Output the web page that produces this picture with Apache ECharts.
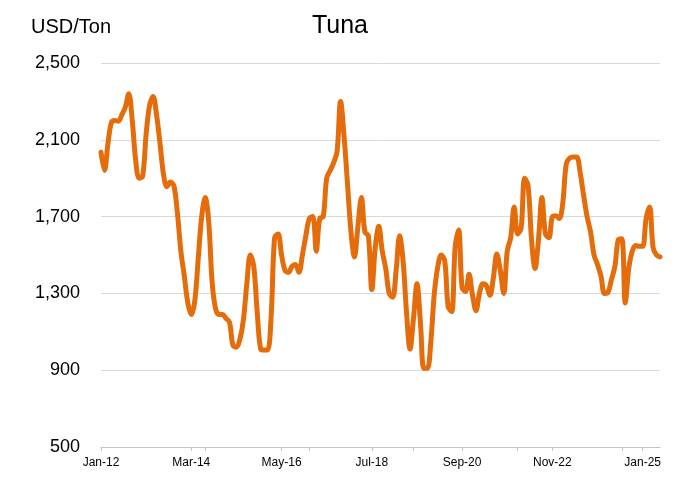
<!DOCTYPE html>
<html>
<head>
<meta charset="utf-8">
<script src="https://cdn.jsdelivr.net/npm/echarts@6/dist/echarts.min.js"></script>
<style>
  html, body { margin: 0; padding: 0; background: #fff; }
  #chart { width: 680px; height: 478px; }
</style>
</head>
<body>
<div id="chart"></div>
<script>
// monthly tuna price, Jan-12 .. Jun-25 (USD/Ton)
const startYear = 2012;
const monthNames = ["Jan", "Feb", "Mar", "Apr", "May", "Jun", "Jul", "Aug", "Sep", "Oct", "Nov", "Dec"];

const prices = [
  2035, 1940, 2080, 2190, 2200, 2197, 2230, 2270, 2340, 2200, 1990, 1900,
  1910, 2130, 2280, 2325, 2230, 2080, 1920, 1855, 1880, 1860, 1720, 1520,
  1390, 1250, 1190, 1260, 1480, 1700, 1800, 1680, 1360, 1220, 1190, 1190,
  1170, 1150, 1030, 1020, 1060, 1160, 1350, 1500, 1440, 1200, 1010, 1005,
  1005, 1180, 1590, 1610, 1500, 1420, 1410, 1440, 1450, 1410, 1500, 1600,
  1690, 1700, 1520, 1690, 1700, 1900, 1940, 1980, 2040, 2300, 2120, 1870,
  1620, 1490, 1650, 1800, 1620, 1600, 1320, 1540, 1650, 1520, 1430, 1300,
  1280, 1420, 1600, 1470, 1200, 1010, 1170, 1350, 1150, 910, 910, 1050,
  1300, 1440, 1500, 1470, 1230, 1205, 1540, 1630, 1330, 1310, 1400, 1290,
  1210, 1300, 1350, 1340, 1290, 1380, 1505, 1420, 1300, 1520, 1590, 1750,
  1610, 1640, 1900, 1860, 1580, 1430, 1580, 1800, 1610, 1590, 1700, 1705,
  1690, 1770, 1975, 2005, 2010, 2010, 1930, 1810, 1700, 1620, 1500, 1450,
  1390, 1300, 1305, 1370, 1440, 1580, 1585, 1250, 1430, 1520, 1550, 1545,
  1545, 1690, 1750, 1540, 1500, 1490
];

const yTicks = [500, 900, 1300, 1700, 2100, 2500];

const months = prices.map((_, i) => {
  const y = startYear + Math.floor(i / 12);
  return monthNames[i % 12] + "-" + String(y).slice(2);
});

const chart = echarts.init(document.getElementById("chart"), null, { renderer: "canvas" });

chart.setOption({
  animation: false,
  backgroundColor: "#ffffff",
  title: [
    {
      text: "Tuna",
      left: "center",
      top: 9,
      textStyle: { fontFamily: "Liberation Sans", fontSize: 25, fontWeight: "normal", color: "#000" }
    },
    {
      text: "USD/Ton",
      left: 26,
      top: 12,
      textStyle: { fontFamily: "Liberation Sans", fontSize: 20, fontWeight: "normal", color: "#000" }
    }
  ],
  grid: { left: 101, right: 20, top: 63, bottom: 31, containLabel: false },
  xAxis: {
    type: "category",
    data: months,
    boundaryGap: false,
    axisLine: { lineStyle: { color: "#c4c4c4", width: 1 } },
    axisTick: {
      length: 4,
      interval: (i) => i % 26 === 0 || i % 30 === 0,
      lineStyle: { color: "#c4c4c4" }
    },
    axisLabel: {
      interval: (i) => i % 26 === 0,
      margin: 10,
      fontFamily: "Liberation Sans",
      fontSize: 12,
      color: "#000"
    },
    splitLine: { show: false }
  },
  yAxis: {
    type: "value",
    min: yTicks[0],
    max: yTicks[yTicks.length - 1],
    interval: 400,
    axisLine: { show: false },
    axisTick: { show: false },
    axisLabel: {
      margin: 21,
      fontFamily: "Liberation Sans",
      fontSize: 18,
      color: "#000",
      formatter: (v) => v.toLocaleString("en-US")
    },
    splitLine: { lineStyle: { color: "#d9d9d9", width: 1 } }
  },
  series: [
    {
      name: "Tuna",
      type: "line",
      data: prices,
      smooth: 0.35,
      symbol: "none",
      lineStyle: { color: "#e46c0a", width: 5, cap: "round", join: "round" }
    }
  ]
});
</script>
</body>
</html>
